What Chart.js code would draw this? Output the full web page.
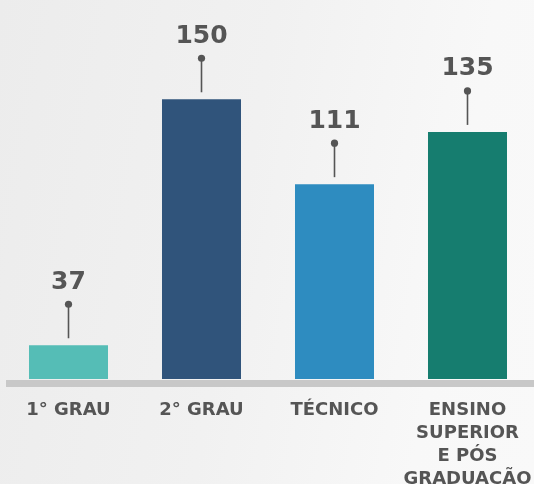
<!DOCTYPE html>
<html>
<head>
<meta charset="utf-8">
<script src="https://cdn.jsdelivr.net/npm/chart.js@4"></script>
<style>
  html, body { margin: 0; padding: 0; }
  body { width: 534px; height: 484px; overflow: hidden;
    background: linear-gradient(100deg, #ececec 0%, #f1f1f1 45%, #f8f8f8 80%, #f9f9f9 100%); }
  #wrap { width: 534px; height: 484px; position: relative; }
</style>
</head>
<body>
<div id="wrap"><canvas id="c"></canvas></div>
<script>
const categories = [["1° GRAU"], ["2° GRAU"], ["TÉCNICO"], ["ENSINO", "SUPERIOR", "E PÓS", "GRADUAÇÃO"]];
const values = [37, 150, 111, 135];
const barColors = ["#55bdb6", "#30547b", "#2e8cc0", "#167d6f"];

const TEXT = "#555555";

const decor = {
  id: "decor",
  afterDatasetsDraw(chart) {
    const ctx = chart.ctx;
    const area = chart.chartArea;
    ctx.save();
    ctx.fillStyle = "#c8c8c8";
    ctx.fillRect(6, area.bottom + 1, chart.width - 6, 7);
    const meta = chart.getDatasetMeta(0);
    meta.data.forEach((bar, i) => {
      const x = bar.x, top = bar.y;
      const dotY = top - 41;
      ctx.strokeStyle = TEXT;
      ctx.lineWidth = 1.6;
      ctx.beginPath();
      ctx.moveTo(x, dotY);
      ctx.lineTo(x, top - 7);
      ctx.stroke();
      ctx.fillStyle = TEXT;
      ctx.beginPath();
      ctx.arc(x, dotY, 3.6, 0, Math.PI * 2);
      ctx.fill();
      ctx.font = "bold 25px 'DejaVu Sans'";
      ctx.textAlign = "center";
      ctx.textBaseline = "middle";
      ctx.fillText(String(values[i]), x, dotY - 22);
    });
    ctx.restore();
  }
};

new Chart(document.getElementById("c"), {
  type: "bar",
  data: {
    labels: categories,
    datasets: [{
      data: values,
      backgroundColor: barColors,
      borderWidth: 0,
      barPercentage: 0.594,
      categoryPercentage: 1
    }]
  },
  options: {
    responsive: true,
    maintainAspectRatio: false,
    animation: false,
    layout: { padding: { left: 2, right: 0, top: 0, bottom: 0 } },
    plugins: { legend: { display: false }, tooltip: { enabled: false } },
    scales: {
      x: {
        grid: { display: false, drawTicks: false },
        border: { display: false },
        afterFit(scale) {
          scale.height = 105;
          scale.paddingLeft = 0;
          scale.paddingRight = 0;
        },
        ticks: {
          color: TEXT,
          padding: 20,
          maxRotation: 0,
          autoSkip: false,
          font: { family: "'DejaVu Sans'", weight: "bold", size: 18, lineHeight: 1.27 }
        }
      },
      y: {
        display: false,
        min: 21.5,
        max: 195.6
      }
    }
  },
  plugins: [decor]
});
</script>
</body>
</html>
